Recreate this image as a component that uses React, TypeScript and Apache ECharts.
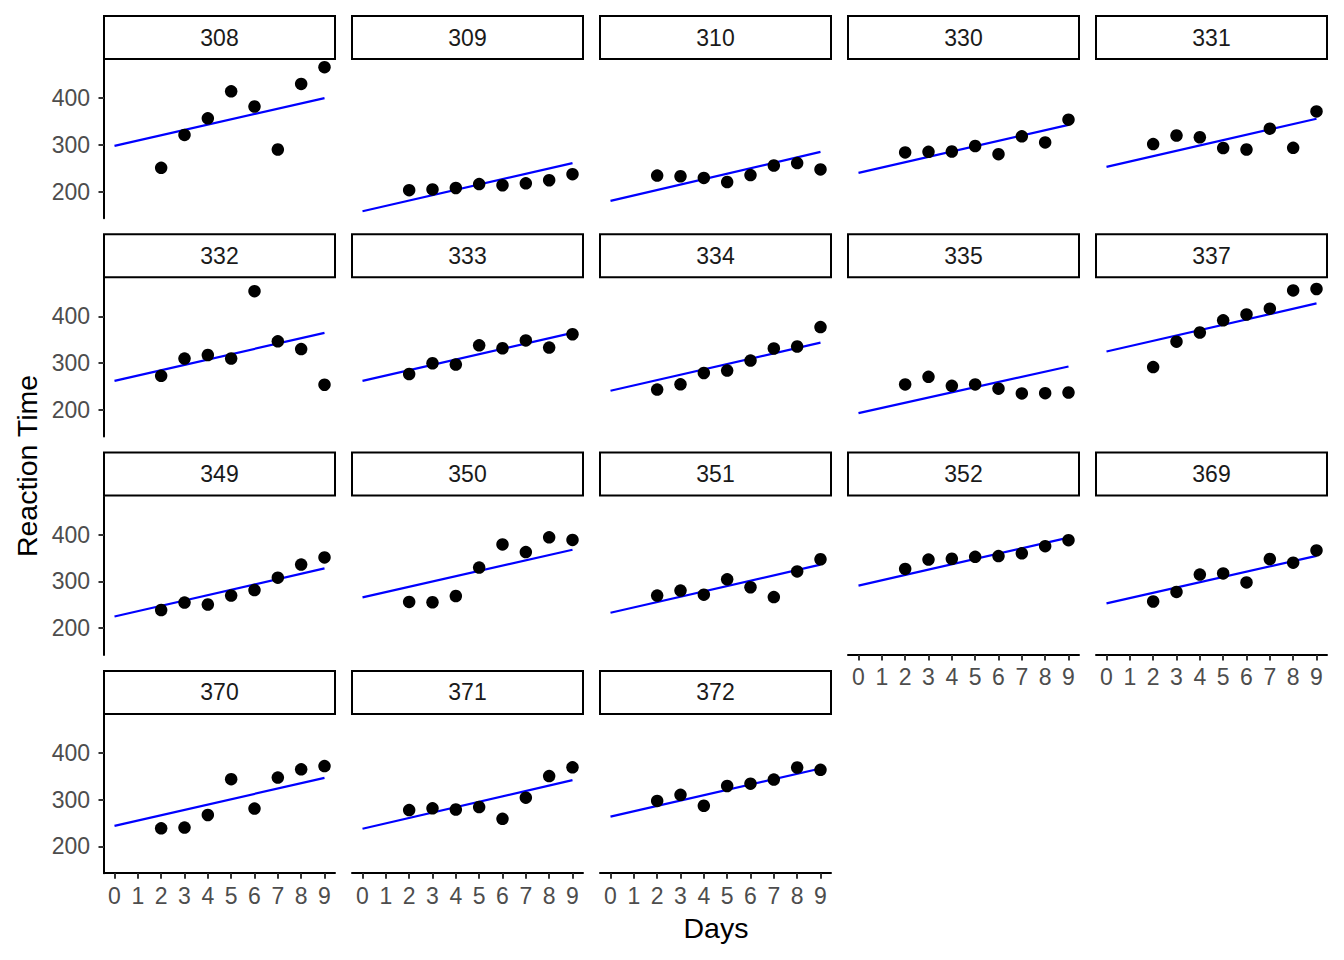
import React, { useEffect, useRef } from "react";
import * as echarts from "echarts";

const subjects = ["308", "309", "310", "330", "331", "332", "333", "334", "335", "337", "349", "350", "351", "352", "369", "370", "371", "372"];
const days = [2, 3, 4, 5, 6, 7, 8, 9];
const reaction: number[][] = [
  [250.8, 321.4, 356.9, 414.7, 382.2, 290.1, 430.6, 466.4],
  [203.0, 204.7, 207.7, 216.0, 213.6, 217.7, 224.3, 237.3],
  [234.3, 232.8, 229.3, 220.5, 235.4, 255.8, 261.0, 247.5],
  [283.9, 285.1, 285.8, 297.6, 280.2, 318.3, 305.3, 354.0],
  [301.8, 320.1, 316.3, 293.3, 290.1, 334.8, 293.7, 371.6],
  [273.0, 309.8, 317.5, 310.0, 454.2, 346.8, 330.3, 253.9],
  [276.8, 299.8, 297.2, 338.2, 332.0, 348.8, 333.4, 362.0],
  [243.4, 254.7, 279.0, 284.2, 305.5, 331.5, 335.7, 377.3],
  [254.5, 270.8, 251.5, 254.6, 245.5, 235.3, 235.8, 237.2],
  [291.6, 346.1, 365.7, 391.8, 404.3, 416.7, 455.9, 458.9],
  [238.9, 254.9, 250.7, 269.8, 281.6, 308.1, 336.3, 351.6],
  [256.2, 255.5, 268.9, 329.7, 379.4, 362.9, 394.5, 389.1],
  [269.9, 280.6, 271.8, 304.6, 287.7, 266.6, 321.5, 347.6],
  [326.9, 346.9, 348.7, 352.8, 354.4, 360.4, 375.6, 388.5],
  [257.2, 277.7, 314.8, 317.2, 298.1, 348.1, 340.3, 366.5],
  [238.9, 240.5, 267.5, 344.2, 281.1, 347.6, 365.2, 372.2],
  [277.9, 281.8, 279.2, 284.5, 259.3, 304.6, 350.8, 369.5],
  [297.6, 310.6, 287.2, 329.6, 334.5, 343.2, 369.1, 364.1],
];
// fitted line values at Day 0 and Day 9
const fitDay0 = [298, 158, 180, 240, 253, 262, 262, 241, 193, 325, 225, 266, 233, 291, 253, 244, 238, 264];
const fitDay9 = [400, 261, 285, 343, 356, 365, 365, 344, 293, 428, 328, 368, 336, 394, 355, 347, 342, 367];
const xTicks = [0, 1, 2, 3, 4, 5, 6, 7, 8, 9];
const yTicks = [200, 300, 400];

const FONT = "'Liberation Sans', Arial, Helvetica, sans-serif";

export default function App() {
  const ref = useRef<HTMLDivElement>(null);
  useEffect(() => {
    if (!ref.current) return;
    const chart = echarts.init(ref.current, null, { renderer: "svg" });
    const colLeft0 = 104, colPitch = 248, panelW = 231;
    const rowTop0 = 60, rowPitch = 218.3, panelH = 158.3;
    const grids: any[] = [], xAxes: any[] = [], yAxes: any[] = [], series: any[] = [], graphics: any[] = [];
    subjects.forEach((s, i) => {
      const col = i % 5, row = Math.floor(i / 5);
      const left = colLeft0 + col * colPitch;
      const top = rowTop0 + row * rowPitch;
      grids.push({ left, top, width: panelW, height: panelH, containLabel: false });
      const bottom = i >= 13;
      const leftAx = col === 0;
      xAxes.push({
        gridIndex: i, type: "value", min: -0.45, max: 9.45,
        splitLine: { show: false },
        axisLine: { show: bottom, onZero: false, lineStyle: { color: "#000", width: 2 } },
        axisTick: { show: bottom, customValues: xTicks, length: 5.5, lineStyle: { color: "#333", width: 2 } },
        axisLabel: { show: bottom, customValues: xTicks, margin: 11, color: "#4D4D4D", fontSize: 23, fontFamily: FONT },
      });
      yAxes.push({
        gridIndex: i, type: "value", min: 142.8, max: 481.8,
        splitLine: { show: false },
        axisLine: { show: leftAx, onZero: false, lineStyle: { color: "#000", width: 2 } },
        axisTick: { show: leftAx, customValues: yTicks, length: 5.5, lineStyle: { color: "#333", width: 2 } },
        axisLabel: { show: leftAx, customValues: yTicks, margin: 14, color: "#4D4D4D", fontSize: 23, fontFamily: FONT },
      });
      series.push({
        type: "line", xAxisIndex: i, yAxisIndex: i,
        data: [[0, fitDay0[i]], [9, fitDay9[i]]],
        showSymbol: false, symbol: "none",
        lineStyle: { color: "#0000FF", width: 2.2 }, z: 2,
      });
      series.push({
        type: "scatter", xAxisIndex: i, yAxisIndex: i,
        data: days.map((d, j) => [d, reaction[i][j]]),
        symbol: "circle", symbolSize: 12.5,
        itemStyle: { color: "#000", opacity: 1 }, z: 3,
      });
      graphics.push({
        type: "rect",
        shape: { x: left, y: top - 44, width: panelW, height: 43 },
        style: { fill: "#fff", stroke: "#000", lineWidth: 2 },
      });
      graphics.push({
        type: "text",
        x: left + panelW / 2, y: top - 22.5,
        style: { text: s, fill: "#1A1A1A", font: `23px ${FONT}`, textAlign: "center", textVerticalAlign: "middle" },
      });
    });
    graphics.push({
      type: "text", x: 716, y: 928,
      style: { text: "Days", fill: "#000", font: `28.5px ${FONT}`, textAlign: "center", textVerticalAlign: "middle" },
    });
    graphics.push({
      type: "text", x: 27, y: 466, rotation: Math.PI / 2,
      style: { text: "Reaction Time", fill: "#000", font: `28.5px ${FONT}`, textAlign: "center", textVerticalAlign: "middle" },
    });
    chart.setOption({
      animation: false,
      backgroundColor: "#fff",
      textStyle: { fontFamily: FONT },
      grid: grids, xAxis: xAxes, yAxis: yAxes, series,
      graphic: graphics,
    });
    return () => chart.dispose();
  }, []);
  return <div ref={ref} style={{ position: "fixed", left: 0, top: 0, width: 1344, height: 960 }} />;
}
